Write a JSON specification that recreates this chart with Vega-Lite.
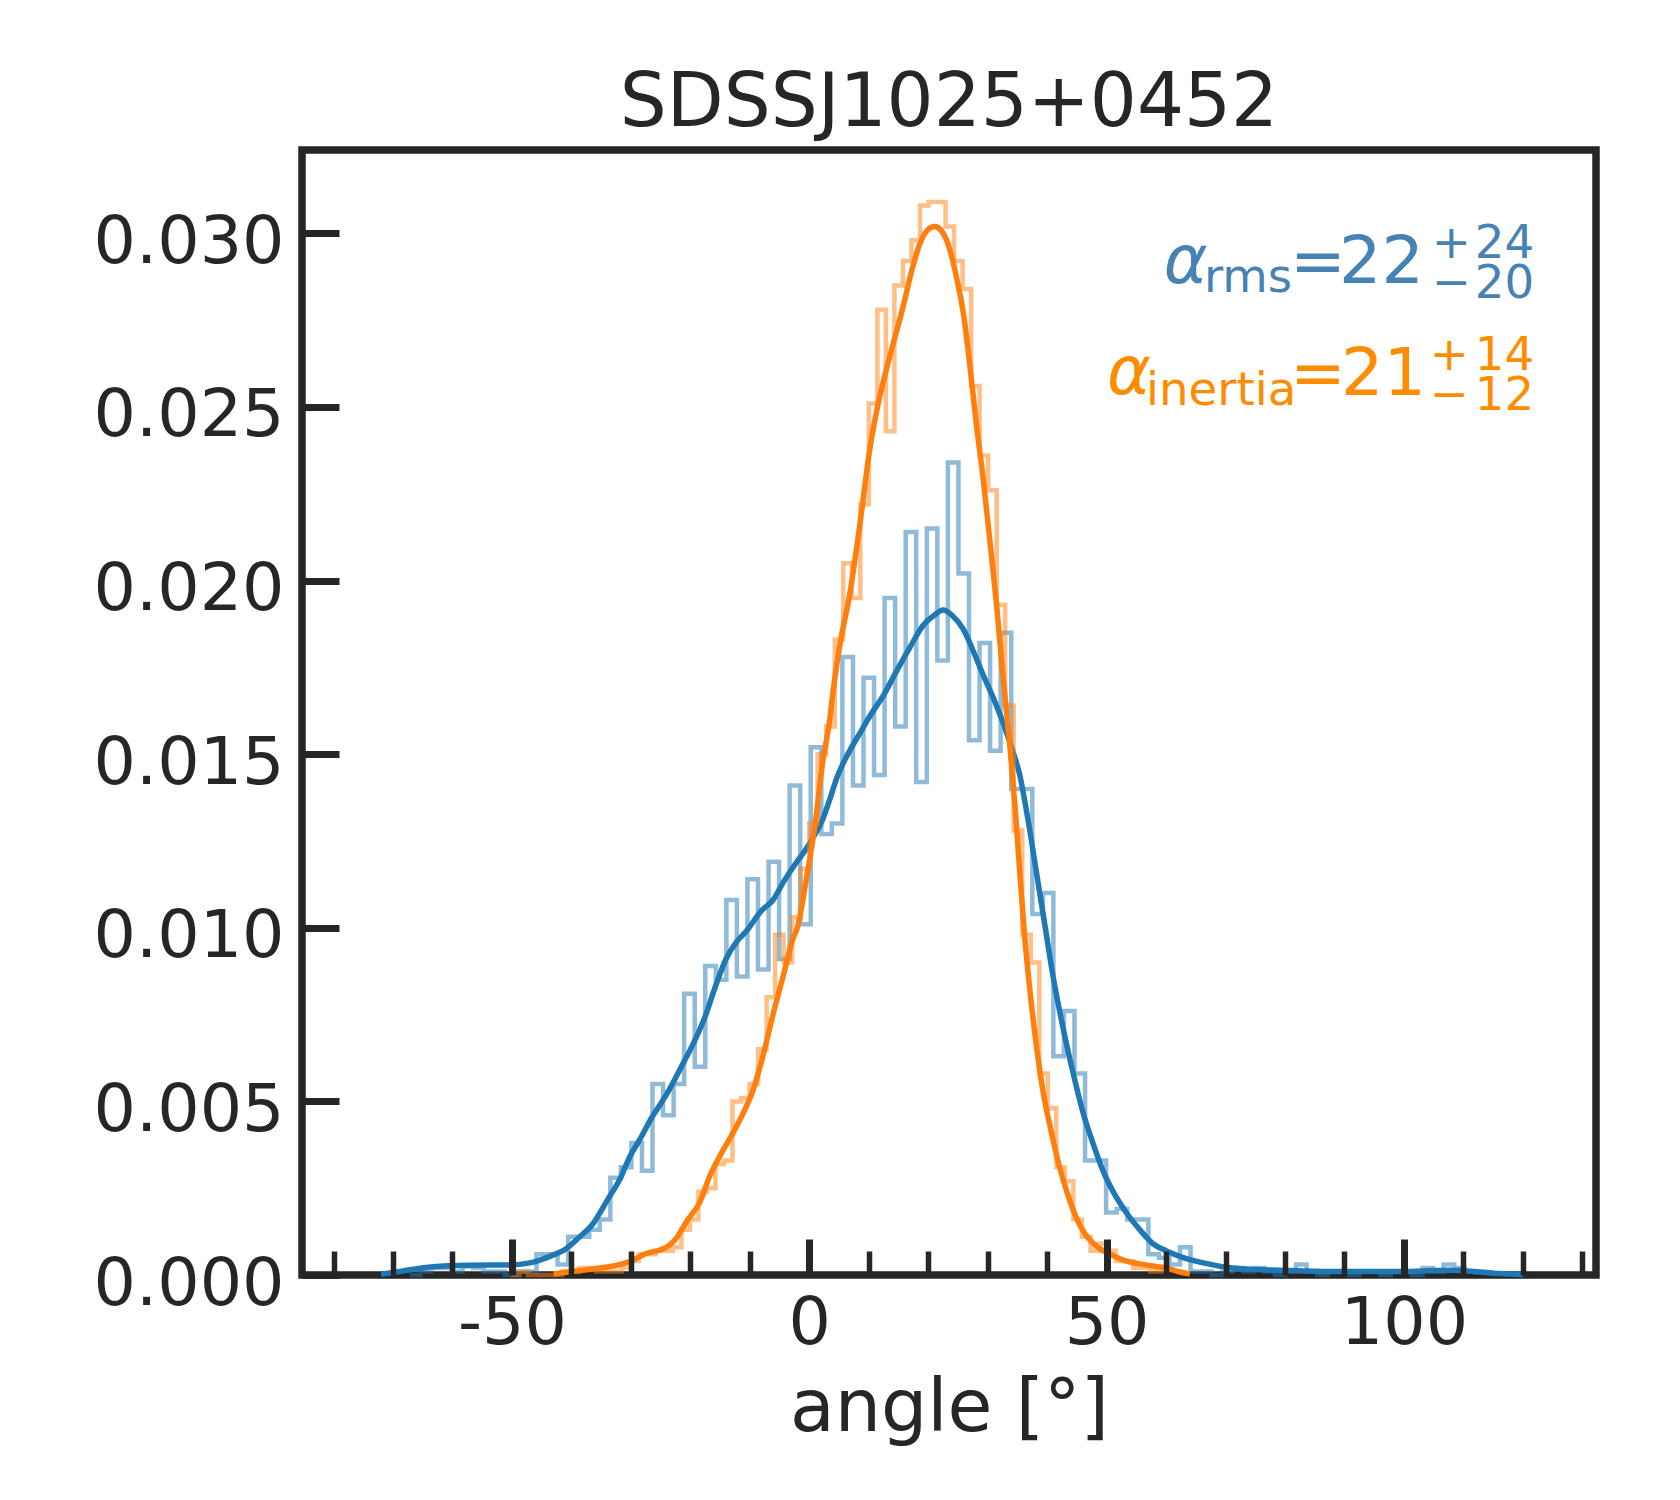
{
  "$schema": "https://vega.github.io/schema/vega-lite/v6.json",
  "width": 1294,
  "height": 1125,
  "autosize": {"type": "none"},
  "padding": {"left": 302, "top": 150, "right": 84, "bottom": 225},
  "background": "white",
  "title": {
    "text": "SDSSJ1025+0452",
    "font": "DejaVu Sans",
    "fontSize": 74,
    "fontWeight": "normal",
    "color": "#262626",
    "anchor": "middle",
    "frame": "group",
    "baseline": "alphabetic",
    "offset": -50
  },
  "datasets": {
    "hist": [
      {"s": "rms", "x": -67.16, "y": 0},
      {"s": "rms", "x": -65.39, "y": 0.0001},
      {"s": "rms", "x": -63.61, "y": 0.0002},
      {"s": "rms", "x": -61.84, "y": 0.0002},
      {"s": "rms", "x": -60.06, "y": 0.0001},
      {"s": "rms", "x": -58.29, "y": 0.00025},
      {"s": "rms", "x": -56.52, "y": 0.0002},
      {"s": "rms", "x": -54.74, "y": 0.0001},
      {"s": "rms", "x": -52.97, "y": 0.0001},
      {"s": "rms", "x": -51.19, "y": 0},
      {"s": "rms", "x": -49.42, "y": 0.0001},
      {"s": "rms", "x": -47.65, "y": 0.0001},
      {"s": "rms", "x": -45.87, "y": 0.0006},
      {"s": "rms", "x": -44.1, "y": 0.0006},
      {"s": "rms", "x": -42.32, "y": 0.0003},
      {"s": "rms", "x": -40.55, "y": 0.0011},
      {"s": "rms", "x": -38.78, "y": 0.0011},
      {"s": "rms", "x": -37.0, "y": 0.0013},
      {"s": "rms", "x": -35.23, "y": 0.0016},
      {"s": "rms", "x": -33.45, "y": 0.0028},
      {"s": "rms", "x": -31.68, "y": 0.0031},
      {"s": "rms", "x": -29.91, "y": 0.0038},
      {"s": "rms", "x": -28.13, "y": 0.003},
      {"s": "rms", "x": -26.36, "y": 0.0055},
      {"s": "rms", "x": -24.58, "y": 0.0046},
      {"s": "rms", "x": -22.81, "y": 0.0055},
      {"s": "rms", "x": -21.04, "y": 0.0081},
      {"s": "rms", "x": -19.26, "y": 0.006},
      {"s": "rms", "x": -17.49, "y": 0.0089},
      {"s": "rms", "x": -15.71, "y": 0.0085},
      {"s": "rms", "x": -13.94, "y": 0.0108},
      {"s": "rms", "x": -12.17, "y": 0.0086},
      {"s": "rms", "x": -10.39, "y": 0.0114},
      {"s": "rms", "x": -8.62, "y": 0.0088},
      {"s": "rms", "x": -6.84, "y": 0.0119},
      {"s": "rms", "x": -5.07, "y": 0.0091},
      {"s": "rms", "x": -3.3, "y": 0.0141},
      {"s": "rms", "x": -1.52, "y": 0.0101},
      {"s": "rms", "x": 0.25, "y": 0.0152},
      {"s": "rms", "x": 2.03, "y": 0.0127},
      {"s": "rms", "x": 3.8, "y": 0.013},
      {"s": "rms", "x": 5.57, "y": 0.0178},
      {"s": "rms", "x": 7.35, "y": 0.0141},
      {"s": "rms", "x": 9.12, "y": 0.0172},
      {"s": "rms", "x": 10.9, "y": 0.0144},
      {"s": "rms", "x": 12.67, "y": 0.0195},
      {"s": "rms", "x": 14.44, "y": 0.0158},
      {"s": "rms", "x": 16.22, "y": 0.0214},
      {"s": "rms", "x": 17.99, "y": 0.0142},
      {"s": "rms", "x": 19.77, "y": 0.0215},
      {"s": "rms", "x": 21.54, "y": 0.0177},
      {"s": "rms", "x": 23.31, "y": 0.0234},
      {"s": "rms", "x": 25.09, "y": 0.0202},
      {"s": "rms", "x": 26.86, "y": 0.0154},
      {"s": "rms", "x": 28.64, "y": 0.0182},
      {"s": "rms", "x": 30.41, "y": 0.0151},
      {"s": "rms", "x": 32.18, "y": 0.0185},
      {"s": "rms", "x": 33.96, "y": 0.014},
      {"s": "rms", "x": 35.73, "y": 0.014},
      {"s": "rms", "x": 37.51, "y": 0.0104},
      {"s": "rms", "x": 39.28, "y": 0.011},
      {"s": "rms", "x": 41.05, "y": 0.0063},
      {"s": "rms", "x": 42.83, "y": 0.0076},
      {"s": "rms", "x": 44.6, "y": 0.0058},
      {"s": "rms", "x": 46.38, "y": 0.0033},
      {"s": "rms", "x": 48.15, "y": 0.0033},
      {"s": "rms", "x": 49.92, "y": 0.0018},
      {"s": "rms", "x": 51.7, "y": 0.0019},
      {"s": "rms", "x": 53.47, "y": 0.0016},
      {"s": "rms", "x": 55.25, "y": 0.0016},
      {"s": "rms", "x": 57.02, "y": 0.0006},
      {"s": "rms", "x": 58.79, "y": 0.0005},
      {"s": "rms", "x": 60.57, "y": 0.0003},
      {"s": "rms", "x": 62.34, "y": 0.0008},
      {"s": "rms", "x": 64.12, "y": 0.0001},
      {"s": "rms", "x": 65.89, "y": 0.0001},
      {"s": "rms", "x": 67.66, "y": 0},
      {"s": "rms", "x": 69.44, "y": 0.0001},
      {"s": "rms", "x": 71.21, "y": 0.0002},
      {"s": "rms", "x": 72.99, "y": 0.0001},
      {"s": "rms", "x": 74.76, "y": 0.0002},
      {"s": "rms", "x": 76.53, "y": 0.0001},
      {"s": "rms", "x": 78.31, "y": 0},
      {"s": "rms", "x": 80.08, "y": 0.0001},
      {"s": "rms", "x": 81.86, "y": 0.0003},
      {"s": "rms", "x": 83.63, "y": 0.0001},
      {"s": "rms", "x": 85.4, "y": 0},
      {"s": "rms", "x": 87.18, "y": 0.0001},
      {"s": "rms", "x": 88.95, "y": 0.0001},
      {"s": "rms", "x": 90.73, "y": 0},
      {"s": "rms", "x": 92.5, "y": 0.0001},
      {"s": "rms", "x": 94.27, "y": 0.0001},
      {"s": "rms", "x": 96.05, "y": 0},
      {"s": "rms", "x": 97.82, "y": 0.0001},
      {"s": "rms", "x": 99.6, "y": 0.0001},
      {"s": "rms", "x": 101.37, "y": 0},
      {"s": "rms", "x": 103.14, "y": 0.0002},
      {"s": "rms", "x": 104.92, "y": 0.0001},
      {"s": "rms", "x": 106.69, "y": 0.0003},
      {"s": "rms", "x": 108.47, "y": 0.0002},
      {"s": "rms", "x": 110.24, "y": 0.0001},
      {"s": "rms", "x": 112.01, "y": 0},
      {"s": "inertia", "x": -50.16, "y": 0},
      {"s": "inertia", "x": -48.73, "y": 0.0001},
      {"s": "inertia", "x": -47.3, "y": 0},
      {"s": "inertia", "x": -45.87, "y": 0},
      {"s": "inertia", "x": -44.43, "y": 0},
      {"s": "inertia", "x": -43.0, "y": 0},
      {"s": "inertia", "x": -41.57, "y": 0.0001},
      {"s": "inertia", "x": -40.13, "y": 0.0001},
      {"s": "inertia", "x": -38.7, "y": 0.0002},
      {"s": "inertia", "x": -37.27, "y": 0.0002},
      {"s": "inertia", "x": -35.83, "y": 0.0001},
      {"s": "inertia", "x": -34.4, "y": 0.0001},
      {"s": "inertia", "x": -32.97, "y": 0.0001},
      {"s": "inertia", "x": -31.54, "y": 0.0002},
      {"s": "inertia", "x": -30.1, "y": 0.0004},
      {"s": "inertia", "x": -28.67, "y": 0.0006},
      {"s": "inertia", "x": -27.24, "y": 0.0006},
      {"s": "inertia", "x": -25.8, "y": 0.0007},
      {"s": "inertia", "x": -24.37, "y": 0.0007},
      {"s": "inertia", "x": -22.94, "y": 0.0008},
      {"s": "inertia", "x": -21.5, "y": 0.0013},
      {"s": "inertia", "x": -20.07, "y": 0.0016},
      {"s": "inertia", "x": -18.64, "y": 0.0024},
      {"s": "inertia", "x": -17.21, "y": 0.0025},
      {"s": "inertia", "x": -15.77, "y": 0.0032},
      {"s": "inertia", "x": -14.34, "y": 0.0033},
      {"s": "inertia", "x": -12.91, "y": 0.005},
      {"s": "inertia", "x": -11.47, "y": 0.0051},
      {"s": "inertia", "x": -10.04, "y": 0.0055},
      {"s": "inertia", "x": -8.61, "y": 0.0065},
      {"s": "inertia", "x": -7.17, "y": 0.008},
      {"s": "inertia", "x": -5.74, "y": 0.0098},
      {"s": "inertia", "x": -4.31, "y": 0.009},
      {"s": "inertia", "x": -2.88, "y": 0.0103},
      {"s": "inertia", "x": -1.44, "y": 0.0117},
      {"s": "inertia", "x": -0.01, "y": 0.013},
      {"s": "inertia", "x": 1.42, "y": 0.015},
      {"s": "inertia", "x": 2.86, "y": 0.0158},
      {"s": "inertia", "x": 4.29, "y": 0.0183},
      {"s": "inertia", "x": 5.72, "y": 0.0205},
      {"s": "inertia", "x": 7.16, "y": 0.0195},
      {"s": "inertia", "x": 8.59, "y": 0.0222},
      {"s": "inertia", "x": 10.02, "y": 0.0251},
      {"s": "inertia", "x": 11.46, "y": 0.0278},
      {"s": "inertia", "x": 12.89, "y": 0.0243},
      {"s": "inertia", "x": 14.32, "y": 0.0285},
      {"s": "inertia", "x": 15.75, "y": 0.0292},
      {"s": "inertia", "x": 17.19, "y": 0.0298},
      {"s": "inertia", "x": 18.62, "y": 0.0308},
      {"s": "inertia", "x": 20.05, "y": 0.0309},
      {"s": "inertia", "x": 21.49, "y": 0.0309},
      {"s": "inertia", "x": 22.92, "y": 0.0302},
      {"s": "inertia", "x": 24.35, "y": 0.0292},
      {"s": "inertia", "x": 25.79, "y": 0.0284},
      {"s": "inertia", "x": 27.22, "y": 0.0256},
      {"s": "inertia", "x": 28.65, "y": 0.0236},
      {"s": "inertia", "x": 30.08, "y": 0.0226},
      {"s": "inertia", "x": 31.52, "y": 0.0193},
      {"s": "inertia", "x": 32.95, "y": 0.0164},
      {"s": "inertia", "x": 34.38, "y": 0.0128},
      {"s": "inertia", "x": 35.82, "y": 0.0098},
      {"s": "inertia", "x": 37.25, "y": 0.009},
      {"s": "inertia", "x": 38.68, "y": 0.0058},
      {"s": "inertia", "x": 40.12, "y": 0.0048},
      {"s": "inertia", "x": 41.55, "y": 0.0031},
      {"s": "inertia", "x": 42.98, "y": 0.0027},
      {"s": "inertia", "x": 44.41, "y": 0.0016},
      {"s": "inertia", "x": 45.85, "y": 0.0011},
      {"s": "inertia", "x": 47.28, "y": 0.0007},
      {"s": "inertia", "x": 48.71, "y": 0.0009},
      {"s": "inertia", "x": 50.15, "y": 0.0007},
      {"s": "inertia", "x": 51.58, "y": 0.0004},
      {"s": "inertia", "x": 53.01, "y": 0.0004},
      {"s": "inertia", "x": 54.45, "y": 0.0002},
      {"s": "inertia", "x": 55.88, "y": 0.0002},
      {"s": "inertia", "x": 57.31, "y": 0.0001},
      {"s": "inertia", "x": 58.74, "y": 0.0001},
      {"s": "inertia", "x": 60.18, "y": 0}
    ],
    "kde": [
      {"s": "rms", "x": -72, "y": 0.00002},
      {"s": "rms", "x": -68.9, "y": 0.0001},
      {"s": "rms", "x": -63.3, "y": 0.00024},
      {"s": "rms", "x": -57, "y": 0.00028},
      {"s": "rms", "x": -50.4, "y": 0.00029},
      {"s": "rms", "x": -47, "y": 0.00035},
      {"s": "rms", "x": -45.3, "y": 0.00043},
      {"s": "rms", "x": -43, "y": 0.00058},
      {"s": "rms", "x": -41.4, "y": 0.0007},
      {"s": "rms", "x": -38.6, "y": 0.0011},
      {"s": "rms", "x": -36.4, "y": 0.00147},
      {"s": "rms", "x": -33.8, "y": 0.0022},
      {"s": "rms", "x": -31.9, "y": 0.00274},
      {"s": "rms", "x": -30.2, "y": 0.0034},
      {"s": "rms", "x": -28.5, "y": 0.0039},
      {"s": "rms", "x": -26.6, "y": 0.0045},
      {"s": "rms", "x": -24, "y": 0.0052},
      {"s": "rms", "x": -21.2, "y": 0.0061},
      {"s": "rms", "x": -19.4, "y": 0.0067},
      {"s": "rms", "x": -17.6, "y": 0.0074},
      {"s": "rms", "x": -15.8, "y": 0.0083},
      {"s": "rms", "x": -14, "y": 0.0091},
      {"s": "rms", "x": -12.2, "y": 0.0096},
      {"s": "rms", "x": -10.6, "y": 0.0099},
      {"s": "rms", "x": -8, "y": 0.0105},
      {"s": "rms", "x": -6.1, "y": 0.0108},
      {"s": "rms", "x": -4.4, "y": 0.0113},
      {"s": "rms", "x": -2.5, "y": 0.0118},
      {"s": "rms", "x": -0.8, "y": 0.0122},
      {"s": "rms", "x": 1, "y": 0.0127},
      {"s": "rms", "x": 2.2, "y": 0.0131},
      {"s": "rms", "x": 3.45, "y": 0.0137},
      {"s": "rms", "x": 4.6, "y": 0.0143},
      {"s": "rms", "x": 5.6, "y": 0.0147},
      {"s": "rms", "x": 6.8, "y": 0.0151},
      {"s": "rms", "x": 8.5, "y": 0.0156},
      {"s": "rms", "x": 10.2, "y": 0.0161},
      {"s": "rms", "x": 12.5, "y": 0.0167},
      {"s": "rms", "x": 14.7, "y": 0.0174},
      {"s": "rms", "x": 17, "y": 0.0181},
      {"s": "rms", "x": 19.1, "y": 0.0187},
      {"s": "rms", "x": 21, "y": 0.019},
      {"s": "rms", "x": 22.5, "y": 0.01915},
      {"s": "rms", "x": 24, "y": 0.019},
      {"s": "rms", "x": 25.9, "y": 0.0186},
      {"s": "rms", "x": 27.5, "y": 0.018},
      {"s": "rms", "x": 29.2, "y": 0.0173},
      {"s": "rms", "x": 31, "y": 0.0166},
      {"s": "rms", "x": 32.6, "y": 0.0159},
      {"s": "rms", "x": 34, "y": 0.0152},
      {"s": "rms", "x": 35.4, "y": 0.0144},
      {"s": "rms", "x": 36.8, "y": 0.0131},
      {"s": "rms", "x": 38.2, "y": 0.0116},
      {"s": "rms", "x": 39.6, "y": 0.0101},
      {"s": "rms", "x": 41, "y": 0.0086},
      {"s": "rms", "x": 42.7, "y": 0.0071},
      {"s": "rms", "x": 44.4, "y": 0.0058},
      {"s": "rms", "x": 46, "y": 0.0047},
      {"s": "rms", "x": 47.7, "y": 0.0038},
      {"s": "rms", "x": 49.4, "y": 0.003},
      {"s": "rms", "x": 51.1, "y": 0.0024},
      {"s": "rms", "x": 53.3, "y": 0.0018},
      {"s": "rms", "x": 55.6, "y": 0.0013},
      {"s": "rms", "x": 57.8, "y": 0.0009},
      {"s": "rms", "x": 60.1, "y": 0.00069},
      {"s": "rms", "x": 62.9, "y": 0.0005},
      {"s": "rms", "x": 65.7, "y": 0.00037},
      {"s": "rms", "x": 68.5, "y": 0.00027},
      {"s": "rms", "x": 71.2, "y": 0.0002},
      {"s": "rms", "x": 75, "y": 0.00016},
      {"s": "rms", "x": 79, "y": 0.00014},
      {"s": "rms", "x": 85, "y": 0.00011},
      {"s": "rms", "x": 90, "y": 0.0001},
      {"s": "rms", "x": 95, "y": 0.0001},
      {"s": "rms", "x": 100, "y": 0.0001},
      {"s": "rms", "x": 105, "y": 0.00013},
      {"s": "rms", "x": 108, "y": 0.00014},
      {"s": "rms", "x": 112, "y": 0.0001},
      {"s": "rms", "x": 116, "y": 0.00004},
      {"s": "rms", "x": 120, "y": 0.00001},
      {"s": "inertia", "x": -43, "y": 0.00003},
      {"s": "inertia", "x": -40, "y": 0.0001},
      {"s": "inertia", "x": -35.2, "y": 0.0002},
      {"s": "inertia", "x": -31.9, "y": 0.0003},
      {"s": "inertia", "x": -30, "y": 0.0004},
      {"s": "inertia", "x": -28.5, "y": 0.00053},
      {"s": "inertia", "x": -27.4, "y": 0.00062},
      {"s": "inertia", "x": -25.1, "y": 0.00072},
      {"s": "inertia", "x": -23.5, "y": 0.00086},
      {"s": "inertia", "x": -22.2, "y": 0.0011},
      {"s": "inertia", "x": -20.6, "y": 0.00155},
      {"s": "inertia", "x": -18.4, "y": 0.0021},
      {"s": "inertia", "x": -16.7, "y": 0.00286},
      {"s": "inertia", "x": -14.8, "y": 0.0035},
      {"s": "inertia", "x": -12.8, "y": 0.0041},
      {"s": "inertia", "x": -11, "y": 0.0047},
      {"s": "inertia", "x": -9.5, "y": 0.0053},
      {"s": "inertia", "x": -7.8, "y": 0.0063},
      {"s": "inertia", "x": -6.1, "y": 0.0075},
      {"s": "inertia", "x": -4.4, "y": 0.0086},
      {"s": "inertia", "x": -2.7, "y": 0.0097},
      {"s": "inertia", "x": -2, "y": 0.01},
      {"s": "inertia", "x": -0.5, "y": 0.0114},
      {"s": "inertia", "x": 1, "y": 0.013},
      {"s": "inertia", "x": 2.2, "y": 0.0147},
      {"s": "inertia", "x": 3.45, "y": 0.016},
      {"s": "inertia", "x": 4, "y": 0.0168},
      {"s": "inertia", "x": 5.1, "y": 0.0181},
      {"s": "inertia", "x": 6.8, "y": 0.0196},
      {"s": "inertia", "x": 8.5, "y": 0.0216},
      {"s": "inertia", "x": 10.2, "y": 0.0238},
      {"s": "inertia", "x": 11.6, "y": 0.0251},
      {"s": "inertia", "x": 13, "y": 0.0261},
      {"s": "inertia", "x": 14.4, "y": 0.027},
      {"s": "inertia", "x": 15.8, "y": 0.0279},
      {"s": "inertia", "x": 17.2, "y": 0.0289},
      {"s": "inertia", "x": 18.6, "y": 0.0297},
      {"s": "inertia", "x": 19.9, "y": 0.0301},
      {"s": "inertia", "x": 21.1, "y": 0.0302},
      {"s": "inertia", "x": 22.1, "y": 0.0301},
      {"s": "inertia", "x": 23.1, "y": 0.0298},
      {"s": "inertia", "x": 24, "y": 0.0293},
      {"s": "inertia", "x": 24.8, "y": 0.0287},
      {"s": "inertia", "x": 26, "y": 0.0276},
      {"s": "inertia", "x": 27, "y": 0.0262},
      {"s": "inertia", "x": 28.1, "y": 0.0245},
      {"s": "inertia", "x": 29.2, "y": 0.023},
      {"s": "inertia", "x": 30.4, "y": 0.0211},
      {"s": "inertia", "x": 31.5, "y": 0.0193},
      {"s": "inertia", "x": 32.6, "y": 0.0172},
      {"s": "inertia", "x": 33.7, "y": 0.0153},
      {"s": "inertia", "x": 34.6, "y": 0.0135},
      {"s": "inertia", "x": 35.4, "y": 0.0116},
      {"s": "inertia", "x": 36.2, "y": 0.0098},
      {"s": "inertia", "x": 37.1, "y": 0.0082},
      {"s": "inertia", "x": 38.2, "y": 0.0066},
      {"s": "inertia", "x": 39.3, "y": 0.0053},
      {"s": "inertia", "x": 40.6, "y": 0.0042},
      {"s": "inertia", "x": 42.1, "y": 0.0031},
      {"s": "inertia", "x": 43.5, "y": 0.0023},
      {"s": "inertia", "x": 44.9, "y": 0.00165},
      {"s": "inertia", "x": 46.3, "y": 0.0012},
      {"s": "inertia", "x": 47.7, "y": 0.00092},
      {"s": "inertia", "x": 49.4, "y": 0.0007},
      {"s": "inertia", "x": 51.1, "y": 0.00056},
      {"s": "inertia", "x": 53.3, "y": 0.0004},
      {"s": "inertia", "x": 55.6, "y": 0.00032},
      {"s": "inertia", "x": 58, "y": 0.00025},
      {"s": "inertia", "x": 60.1, "y": 0.0002},
      {"s": "inertia", "x": 62, "y": 0.0001},
      {"s": "inertia", "x": 64, "y": 0.00003}
    ],
    "notes": [
      {"s": "rms", "role": "symbol", "t": "α", "x": 59.63, "y": 0.02857},
      {"s": "rms", "role": "index", "t": "rms", "x": 66.36, "y": 0.02831},
      {"s": "rms", "role": "value", "t": "=", "x": 80.84, "y": 0.02857},
      {"s": "rms", "role": "value", "t": "22", "x": 89.08, "y": 0.02857},
      {"s": "rms", "role": "index", "t": "+", "x": 104.7, "y": 0.02929},
      {"s": "rms", "role": "index", "t": "24", "x": 111.93, "y": 0.02929},
      {"s": "rms", "role": "index", "t": "−", "x": 104.7, "y": 0.02814},
      {"s": "rms", "role": "index", "t": "20", "x": 111.93, "y": 0.02814},
      {"s": "inertia", "role": "symbol", "t": "α", "x": 50.06, "y": 0.02537},
      {"s": "inertia", "role": "index", "t": "inertia", "x": 56.62, "y": 0.02506},
      {"s": "inertia", "role": "value", "t": "=", "x": 80.84, "y": 0.02535},
      {"s": "inertia", "role": "value", "t": "21", "x": 89.42, "y": 0.02535},
      {"s": "inertia", "role": "index", "t": "+", "x": 104.36, "y": 0.02607},
      {"s": "inertia", "role": "index", "t": "14", "x": 111.93, "y": 0.02607},
      {"s": "inertia", "role": "index", "t": "−", "x": 104.36, "y": 0.02491},
      {"s": "inertia", "role": "index", "t": "12", "x": 111.93, "y": 0.02491}
    ]
  },
  "encoding": {
    "y": {
      "field": "y",
      "type": "quantitative",
      "scale": {"domain": [0, 0.0324], "nice": false, "zero": false},
      "axis": {
        "values": [0, 0.005, 0.01, 0.015, 0.02, 0.025, 0.03],
        "format": ".3f",
        "tickSize": -37,
        "tickWidth": 7,
        "labelPadding": 55,
        "labelAlign": "right",
        "labelBaseline": "alphabetic",
        "labelOffset": 29,
        "labelLimit": 0,
        "title": null,
        "zindex": 1
      }
    }
  },
  "layer": [
    {
      "data": {"name": "hist"},
      "transform": [{"filter": "datum.s === 'rms'"}],
      "mark": {"type": "line", "interpolate": "step-after", "strokeWidth": 4.5, "opacity": 0.5, "color": "#1f77b4"},
      "encoding": {
        "x": {
          "field": "x",
          "type": "quantitative",
          "scale": {"domain": [-85.3, 132.3], "nice": false, "zero": false},
          "axis": {
            "values": [-50, 0, 50, 100],
            "tickSize": -36,
            "tickWidth": 7,
            "labelPadding": 104,
            "labelBaseline": "alphabetic",
            "labelLimit": 0,
            "labelExpr": "datum.value < 0 ? '-' + abs(datum.value) : '' + datum.value",
            "title": "angle [°]",
            "titleFontSize": 73,
            "titleBaseline": "alphabetic",
            "titleY": 155,
            "zindex": 1
          }
        }
      }
    },
    {
      "data": {"name": "kde"},
      "transform": [{"filter": "datum.s === 'rms'"}],
      "mark": {"type": "line", "interpolate": "monotone", "strokeWidth": 5.5, "color": "#1f77b4"},
      "encoding": {
        "x": {
          "field": "x",
          "type": "quantitative",
          "scale": {"domain": [-85.3, 132.3], "nice": false, "zero": false},
          "axis": {
            "orient": "bottom",
            "values": [-80, -70, -60, -40, -30, -20, -10, 10, 20, 30, 40, 60, 70, 80, 90, 110, 120, 130],
            "tickSize": -24,
            "tickWidth": 5.5,
            "labels": false,
            "title": null,
            "zindex": 1
          }
        }
      }
    },
    {
      "data": {"name": "hist"},
      "transform": [{"filter": "datum.s === 'inertia'"}],
      "mark": {"type": "line", "interpolate": "step-after", "strokeWidth": 4.5, "opacity": 0.5, "color": "#ff7f0e"},
      "encoding": {
        "x": {"field": "x", "type": "quantitative", "scale": {"domain": [-85.3, 132.3], "nice": false, "zero": false}, "axis": null}
      }
    },
    {
      "data": {"name": "kde"},
      "transform": [{"filter": "datum.s === 'inertia'"}],
      "mark": {"type": "line", "interpolate": "monotone", "strokeWidth": 5.5, "color": "#ff7f0e"},
      "encoding": {
        "x": {"field": "x", "type": "quantitative", "scale": {"domain": [-85.3, 132.3], "nice": false, "zero": false}, "axis": null}
      }
    },
    {
      "data": {"name": "notes"},
      "transform": [{"filter": "datum.role === 'symbol'"}],
      "mark": {"type": "text", "align": "left", "baseline": "alphabetic", "font": "DejaVu Sans", "fontSize": 66.7, "fontStyle": "italic"},
      "encoding": {
        "x": {"field": "x", "type": "quantitative", "scale": {"domain": [-85.3, 132.3], "nice": false, "zero": false}, "axis": null},
        "text": {"field": "t"},
        "color": {"condition": {"test": "datum.s === 'rms'", "value": "#4682b4"}, "value": "#ff8c00"}
      }
    },
    {
      "data": {"name": "notes"},
      "transform": [{"filter": "datum.role === 'value'"}],
      "mark": {"type": "text", "align": "left", "baseline": "alphabetic", "font": "DejaVu Sans", "fontSize": 66.7},
      "encoding": {
        "x": {"field": "x", "type": "quantitative", "scale": {"domain": [-85.3, 132.3], "nice": false, "zero": false}, "axis": null},
        "text": {"field": "t"},
        "color": {"condition": {"test": "datum.s === 'rms'", "value": "#4682b4"}, "value": "#ff8c00"}
      }
    },
    {
      "data": {"name": "notes"},
      "transform": [{"filter": "datum.role === 'index'"}],
      "mark": {"type": "text", "align": "left", "baseline": "alphabetic", "font": "DejaVu Sans", "fontSize": 46.7},
      "encoding": {
        "x": {"field": "x", "type": "quantitative", "scale": {"domain": [-85.3, 132.3], "nice": false, "zero": false}, "axis": null},
        "text": {"field": "t"},
        "color": {"condition": {"test": "datum.s === 'rms'", "value": "#4682b4"}, "value": "#ff8c00"}
      }
    }
  ],
  "resolve": {"axis": {"x": "independent"}},
  "config": {
    "font": "DejaVu Sans",
    "view": {"stroke": "#262626", "strokeWidth": 7.5},
    "axis": {
      "domain": false,
      "grid": false,
      "tickColor": "#262626",
      "labelColor": "#262626",
      "labelFont": "DejaVu Sans",
      "labelFontSize": 66.7,
      "labelFlush": false,
      "labelOverlap": false,
      "labelBound": false,
      "titleFont": "DejaVu Sans",
      "titleColor": "#262626",
      "titleFontWeight": "normal"
    }
  }
}
